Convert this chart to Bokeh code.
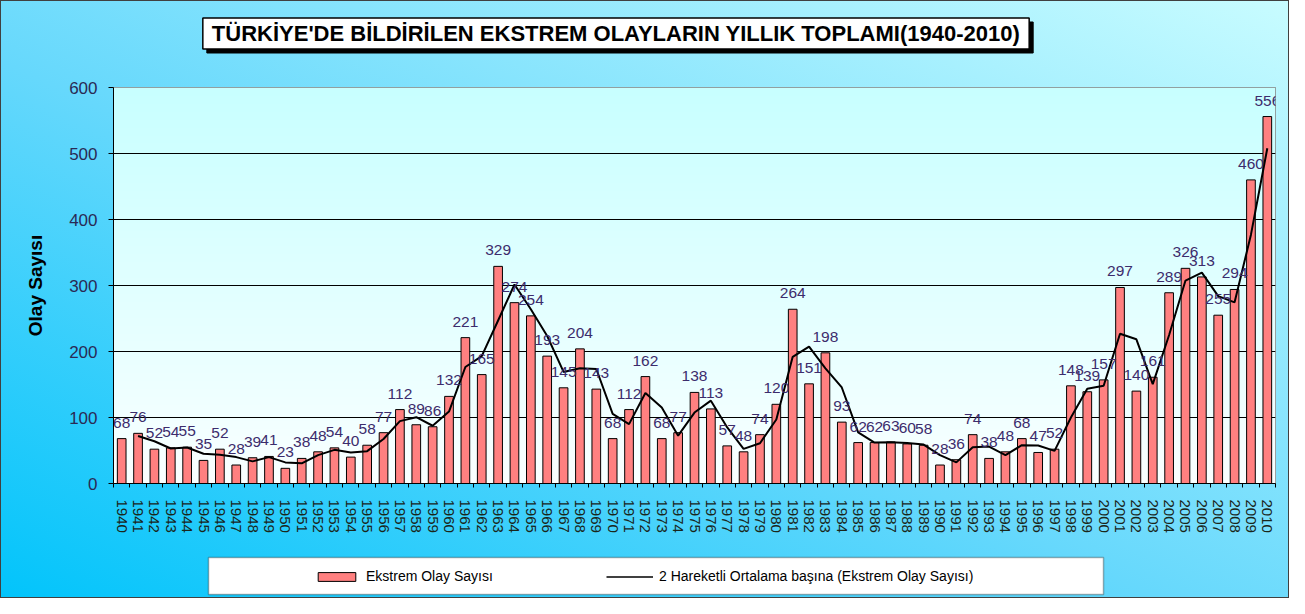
import numpy as np
from bokeh.plotting import figure
from bokeh.layouts import column
from bokeh.models import (Range1d, FixedTicker, Legend, LegendItem, Label,
                          BoxAnnotation)
from bokeh.core.properties import value
from bokeh.embed import file_html
from bokeh.resources import INLINE

# ---------------- data ----------------
years = list(range(1940, 2011))
counts = [68, 76, 52, 54, 55, 35, 52, 28, 39, 41,
          23, 38, 48, 54, 40, 58, 77, 112, 89, 86,
          132, 221, 165, 329, 274, 254, 193, 145, 204, 143,
          68, 112, 162, 68, 77, 138, 113, 57, 48, 74,
          120, 264, 151, 198, 93, 62, 62, 63, 60, 58,
          28, 36, 74, 38, 48, 68, 47, 52, 148, 139,
          157, 297, 140, 161, 289, 326, 313, 255, 294, 460,
          556]
# 2-period moving average (starts at 1941)
ma_years = list(range(1941, 2011))
ma_values = [72, 64, 53, 54.5, 45, 43.5, 40, 33.5, 40,
             32, 30.5, 43, 51, 47, 49, 67.5, 94.5, 100.5, 87.5,
             109, 176.5, 193, 247, 301.5, 264, 223.5, 169, 174.5, 173.5,
             105.5, 90, 137, 115, 72.5, 107.5, 125.5, 85, 52.5, 61,
             97, 192, 207.5, 174.5, 145.5, 77.5, 62, 62.5, 61.5, 59,
             43, 32, 55, 56, 43, 58, 57.5, 49.5, 100, 143.5,
             148, 227, 218.5, 150.5, 225, 307.5, 319.5, 284, 274.5, 377,
             508]
y_ticks = [0, 100, 200, 300, 400, 500, 600]
title_text = "TÜRKİYE'DE BİLDİRİLEN EKSTREM OLAYLARIN YILLIK TOPLAMI(1940-2010)"
bar_name = "Ekstrem Olay Sayısı"
line_name = "2 Hareketli Ortalama başına (Ekstrem Olay Sayısı)"
y_label = "Olay Sayısı"

FONT = "Liberation Sans"
BAR_FILL = "#ff8080"
W = 1287
FRAME_L, FRAME_R = 112, 1274


def blank(height):
    # strip whose frame is aligned with the main chart frame; x in page pixels
    f = figure(width=W, height=height, x_range=Range1d(FRAME_L, FRAME_R),
               y_range=Range1d(0, height),
               output_backend="svg", toolbar_location=None, tools="",
               min_border_left=FRAME_L, min_border_right=W - FRAME_R,
               min_border_top=0, min_border_bottom=0)
    f.axis.visible = False
    f.grid.visible = False
    f.outline_line_color = None
    f.background_fill_alpha = 0
    f.border_fill_alpha = 0
    return f


# ---------------- title strip ----------------
TH = 70
tfig = blank(TH)
common = dict(text=title_text, text_font=FONT, text_font_style="bold",
              text_font_size="22px", text_align="center", text_baseline="middle",
              padding=(9, 3))
tfig.add_layout(Label(x=618.5, y=TH - 36, text_color="black",
                      background_fill_color="black", border_line_color="black",
                      **common))
tfig.add_layout(Label(x=614.5, y=TH - 32, text_color="black",
                      background_fill_color="white", border_line_color="black",
                      border_line_width=1.5, **common))

# ---------------- main chart ----------------
p = figure(width=W, height=475,
           x_range=Range1d(1939.5, 2010.5), y_range=Range1d(0, 600),
           output_backend="svg", toolbar_location=None, tools="",
           min_border_left=FRAME_L, min_border_right=W - FRAME_R,
           min_border_top=16, min_border_bottom=63)
p.border_fill_alpha = 0
p.background_fill_color = "#e4ffff"
p.outline_line_color = "#808080"
p.outline_line_width = 1

# plot-area vertical gradient (background only)
n = 200
grad = np.zeros((n, 1), dtype=np.uint32)
view = grad.view(dtype=np.uint8).reshape((n, 1, 4))
for i in range(n):
    t = i / (n - 1)
    view[i, 0, 0] = int(250 + (200 - 250) * t)
    view[i, 0, 1] = 255
    view[i, 0, 2] = 255
    view[i, 0, 3] = 255
p.image_rgba(image=[grad], x=1939.5, y=0, dw=71, dh=600, level="image")

p.xgrid.visible = False
p.ygrid.ticker = FixedTicker(ticks=y_ticks)
p.ygrid.grid_line_color = "black"
p.ygrid.grid_line_width = 1

bars = p.vbar(x=years, top=counts, width=0.53, fill_color=BAR_FILL,
              line_color="black", line_width=1)
line = p.line(ma_years, ma_values, line_color="black", line_width=2)

p.text(x=years, y=counts, text=[str(c) for c in counts],
       text_font=value(FONT), text_font_size="15.5px", text_color="#3c2c6c",
       text_align="center", text_baseline="middle", y_offset=-16)

yax = p.yaxis[0]
yax.ticker = FixedTicker(ticks=y_ticks)
yax.axis_line_color = "black"
yax.major_tick_line_color = "black"
yax.major_tick_out = 5
yax.major_tick_in = 0
yax.minor_tick_line_color = None
yax.major_label_text_font = FONT
yax.major_label_text_font_size = "17px"
yax.major_label_text_color = "#2a2a55"
yax.major_label_standoff = 11
yax.axis_label = y_label
yax.axis_label_text_font = FONT
yax.axis_label_text_font_style = "bold"
yax.axis_label_text_font_size = "19px"
yax.axis_label_text_color = "black"
yax.axis_label_standoff = 20

xax = p.xaxis[0]
xax.ticker = FixedTicker(ticks=years, minor_ticks=[y - 0.5 for y in years] + [2010.5])
xax.axis_line_color = "black"
xax.major_tick_out = 0
xax.major_tick_in = 0
xax.major_tick_line_color = None
xax.minor_tick_line_color = "black"
xax.minor_tick_out = 4
xax.minor_tick_in = 0
xax.major_label_orientation = "vertical"
xax.major_label_text_font = FONT
xax.major_label_text_font_size = "15px"
xax.major_label_text_color = "#1a261a"
xax.major_label_standoff = 12

# ---------------- legend strip ----------------
LH = 51
lfig = blank(LH)
lfig.add_layout(BoxAnnotation(left=207, right=1102, top=LH - 11, bottom=LH - 48,
                              fill_color="white", fill_alpha=1.0,
                              line_color="black", line_width=1.5))
# legend key renderers (same styling as the chart series; not drawn themselves)
lb = lfig.vbar(x=[0], top=[1], width=1, fill_color=BAR_FILL, line_color="black",
               line_width=1, visible=False)
ll = lfig.line(x=[0, 1], y=[0, 0], line_color="black", line_width=1.5, visible=False)
legend = Legend(items=[LegendItem(label=bar_name, renderers=[lb]),
                       LegendItem(label=line_name, renderers=[ll])],
                orientation="horizontal", location=(200, 13),
                background_fill_alpha=0, border_line_alpha=0,
                inactive_fill_alpha=0,
                padding=0, margin=0, glyph_width=47, glyph_height=11,
                label_standoff=6, label_width=200, spacing=40,
                label_height=14,
                label_text_font=FONT, label_text_font_size="14px",
                label_text_color="black")
lfig.add_layout(legend)

layout = column(tfig, p, lfig, spacing=0)
layout.styles = {"background": "linear-gradient(to top right, #02c4fb 0%, #66d8fc 45%, #c8fcff 100%)",
                 "border": "1px solid #404040"}

open("out.html", "w").write(file_html(layout, INLINE))
